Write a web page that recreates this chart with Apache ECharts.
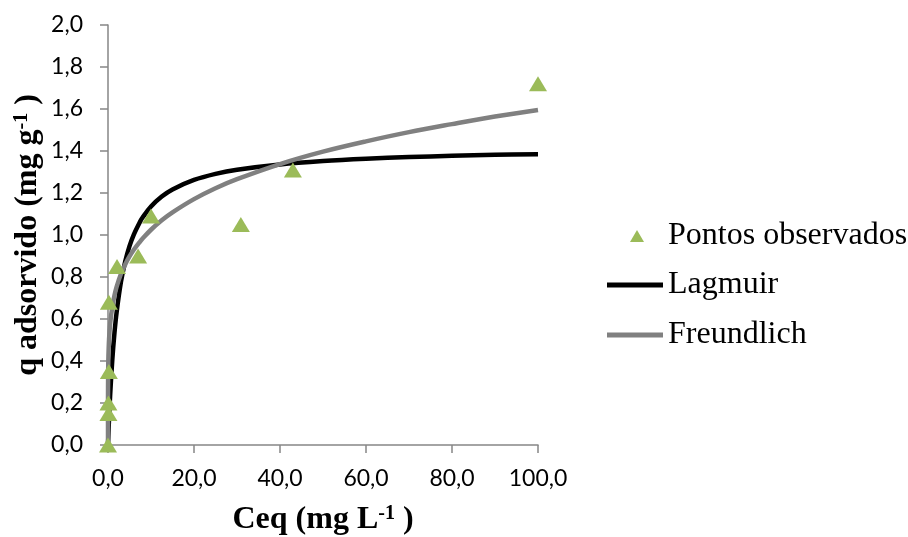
<!DOCTYPE html>
<html>
<head>
<meta charset="utf-8">
<script src="https://cdn.jsdelivr.net/npm/echarts@6/dist/echarts.min.js"></script>
<style>html,body{margin:0;padding:0;background:#fff}#c{width:908px;height:537px}</style>
</head>
<body>
<div id="c"></div>
<script>
// Observed points (Ceq, q)
const obsC = [0.0, 0.1, 0.1, 0.2, 0.2, 2.1, 7.0, 10.0, 30.9, 43.0, 100.0];
const obsQ = [0.00, 0.15, 0.20, 0.35, 0.68, 0.85, 0.90, 1.09, 1.05, 1.31, 1.72];
// Langmuir fitted curve
const langC = [0, 0.1, 0.25, 0.5, 1, 1.5, 2, 3, 4, 5, 6, 7.5, 8, 10, 12.5, 15, 20, 25, 30, 40, 50, 60, 70, 80, 90, 100];
const langQ = [0, 0.055, 0.129, 0.237, 0.406, 0.533, 0.631, 0.775, 0.874, 0.947, 1.002, 1.065, 1.082, 1.136, 1.183, 1.217, 1.262, 1.291, 1.311, 1.336, 1.352, 1.363, 1.371, 1.377, 1.382, 1.385];
// Freundlich fitted curve
const freC = [0, 0.001, 0.01, 0.05, 0.1, 0.25, 0.5, 1, 1.5, 2, 3, 4, 5, 6, 7.5, 8, 10, 12.5, 15, 20, 25, 30, 40, 50, 60, 70, 80, 90, 100];
const freQ = [0, 0.175, 0.272, 0.371, 0.424, 0.505, 0.577, 0.659, 0.712, 0.753, 0.814, 0.860, 0.898, 0.930, 0.970, 0.982, 1.025, 1.070, 1.108, 1.171, 1.223, 1.266, 1.338, 1.397, 1.446, 1.490, 1.528, 1.564, 1.595];
const names = ['Pontos observados', 'Lagmuir', 'Freundlich'];

const zip = (a, b) => a.map((v, i) => [v, b[i]]);
const comma = (v, d) => v.toFixed(d).replace('.', ',');
const tickFont = 'Lato, "Open Sans", sans-serif';
const serif = '"Liberation Serif", "Times New Roman", serif';

const legendText = {fontFamily: serif, fontSize: 32, color: '#000', lineHeight: 36};
const legendTri = {
  orient: 'vertical', left: 630, top: 218, padding: 0,
  itemWidth: 14, itemHeight: 12,
  textStyle: Object.assign({}, legendText, {padding: [0, 0, 0, 19]}), selectedMode: false,
  data: [{name: names[0], icon: 'triangle'}]
};
const mkLegend = (name, top) => ({
  orient: 'vertical', left: 607, top: top, padding: 0,
  itemWidth: 56, itemHeight: 5,
  textStyle: legendText, selectedMode: false,
  data: [{name: name, icon: 'rect'}]
});

const titleStyle = {
  fontFamily: serif, fontSize: 32, fontWeight: 'bold', color: '#000',
  rich: {sup: {fontFamily: serif, fontSize: 20, fontWeight: 'bold', color: '#000', verticalAlign: 'top', padding: [0, 0, 12, 0]}}
};

const chart = echarts.init(document.getElementById('c'), null, {renderer: 'canvas'});
chart.setOption({
  animation: false,
  backgroundColor: '#fff',
  grid: {left: 108, right: 370, top: 25, bottom: 92, containLabel: false, outerBoundsMode: 'none'},
  legend: [
    legendTri,
    mkLegend(names[1], 267),
    mkLegend(names[2], 317)
  ],
  xAxis: {
    type: 'value', min: 0, max: 100, interval: 20,
    axisLine: {onZero: false, lineStyle: {color: '#868686', width: 1.5}},
    axisTick: {show: true, length: 8, lineStyle: {color: '#868686', width: 1.5}},
    axisLabel: {formatter: v => comma(v, 1), fontFamily: tickFont, fontSize: 23, color: '#000', margin: 22},
    splitLine: {show: false},
    name: 'Ceq (mg L{sup|-1} )', nameLocation: 'middle', nameGap: 59,
    nameTextStyle: titleStyle
  },
  yAxis: {
    type: 'value', min: 0, max: 2, interval: 0.2,
    axisLine: {show: true, lineStyle: {color: '#868686', width: 1.5}},
    axisTick: {show: true, length: 8, lineStyle: {color: '#868686', width: 1.5}},
    axisLabel: {formatter: v => comma(v, 1), fontFamily: tickFont, fontSize: 23, color: '#000', margin: 25},
    splitLine: {show: false},
    name: 'q adsorvido (mg g{sup|-1} )', nameLocation: 'middle', nameGap: 64,
    nameTextStyle: titleStyle
  },
  series: [
    {
      name: names[1], type: 'line', data: zip(langC, langQ), smooth: 0.35,
      showSymbol: false, symbol: 'none',
      lineStyle: {color: '#000', width: 4.5}, itemStyle: {color: '#000'}, z: 2
    },
    {
      name: names[2], type: 'line', data: zip(freC, freQ), smooth: 0.35,
      showSymbol: false, symbol: 'none',
      lineStyle: {color: '#808080', width: 4.5}, itemStyle: {color: '#808080'}, z: 3
    },
    {
      name: names[0], type: 'scatter', data: zip(obsC, obsQ),
      symbol: 'triangle', symbolSize: [18, 15],
      itemStyle: {color: '#9bbb59', opacity: 1}, z: 4
    }
  ]
});
</script>
</body>
</html>
